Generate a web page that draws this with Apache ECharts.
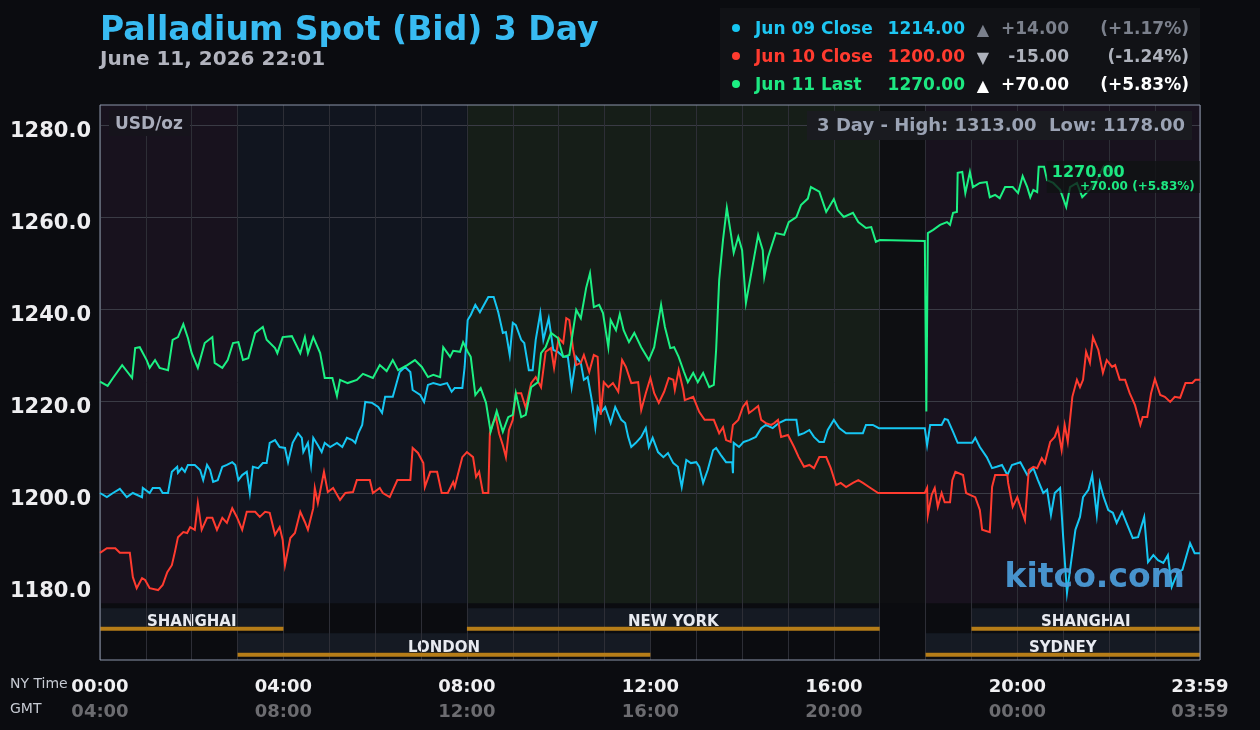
<!DOCTYPE html>
<html><head><meta charset="utf-8">
<script src="https://cdn.jsdelivr.net/npm/echarts@6/dist/echarts.min.js"></script>
<style>html,body{margin:0;padding:0;background:#0b0c10;}#c{width:1260px;height:730px;}</style>
</head><body><div id="c"></div>
<script>
// ---------- DATA ----------
const titleText = 'Palladium Spot (Bid) 3 Day';
const subtitleText = 'June 11, 2026 22:01';
const unitText = 'USD/oz';
const rangeStats = { high: '1313.00', low: '1178.00' };

const legendNames   = ['Jun 09 Close', 'Jun 10 Close', 'Jun 11 Last'];
const legendValues  = ['1214.00', '1200.00', '1270.00'];
const legendArrows  = ['\u25B2', '\u25BC', '\u25B2'];
const legendChanges = ['+14.00', '-15.00', '+70.00'];
const legendPcts    = ['(+1.17%)', '(-1.24%)', '(+5.83%)'];
const lastChangeText = '+70.00 (+5.83%)';

const tickMinutes   = [0, 240, 480, 720, 960, 1200, 1439];
const nyTickLabels  = ['00:00', '04:00', '08:00', '12:00', '16:00', '20:00', '23:59'];
const gmtTickLabels = ['04:00', '08:00', '12:00', '16:00', '20:00', '00:00', '03:59'];

// time-of-day background bands: [startMin, endMin, kind]
const bands = [[0, 180, 'asia'], [180, 480, 'london'], [480, 1020, 'ny'], [1020, 1080, 'closed'], [1080, 1439, 'asia']];
// trading sessions: [name, startMin, endMin, row]
const sessions = [['SHANGHAI', 0, 240, 1], ['NEW YORK', 480, 1020, 1], ['SHANGHAI', 1140, 1439, 1], ['LONDON', 180, 720, 2], ['SYDNEY', 1080, 1439, 2]];

// series: [minute of NY day, price]
const jun09 = [[0,1200],[9,1199.1],[17,1200],[26,1200.9],[35,1199.1],[43,1200],[55,1199.1],[56,1201.1],[65,1200],[69,1201.1],[78,1201.1],[82,1200],[89,1200],[94,1204.6],[101,1205.7],[102,1204.4],[107,1205.4],[111,1204.6],[115,1206.1],[124,1206.1],[131,1205],[135,1202.8],[140,1206.1],[144,1205],[148,1202.4],[154,1202.8],[160,1205.7],[166,1206.1],[173,1206.7],[177,1206.1],[181,1202.8],[186,1203.9],[192,1204.6],[196,1200],[200,1205.7],[207,1205.4],[213,1206.5],[218,1206.5],[222,1210.9],[229,1211.5],[235,1210],[242,1209.8],[246,1206.7],[252,1210.9],[259,1213],[264,1212],[266,1208.9],[272,1210.9],[276,1206.1],[279,1212],[285,1210.4],[290,1208.9],[294,1210.9],[301,1210],[310,1210.9],[317,1210],[323,1212],[330,1211.5],[334,1210.9],[338,1213],[343,1214.8],[347,1219.8],[356,1219.6],[364,1218.7],[369,1217.4],[373,1220.9],[383,1220.9],[392,1226.3],[399,1227.4],[406,1226.3],[409,1222.4],[419,1221.3],[424,1219.8],[429,1223.5],[436,1223.9],[445,1223.5],[454,1223.9],[460,1222],[464,1222.8],[474,1222.8],[477,1227.4],[481,1237.6],[485,1238.7],[491,1240.9],[497,1239.3],[508,1242.6],[515,1242.6],[521,1239.3],[527,1234.8],[531,1235],[536,1230],[540,1237],[544,1236.5],[551,1233.3],[555,1232.6],[561,1226.7],[566,1226.7],[570,1233.3],[576,1239.1],[580,1233.3],[587,1238],[593,1231.1],[599,1230.7],[606,1229.6],[612,1229.6],[617,1223],[623,1229.6],[629,1228.3],[633,1224.6],[638,1225.2],[644,1219.6],[648,1214.3],[651,1218.7],[655,1217.4],[661,1218.7],[668,1215.2],[674,1218.7],[682,1215.9],[687,1215.2],[691,1212.2],[695,1210],[701,1210.9],[708,1212.2],[714,1214.1],[718,1210],[723,1212],[730,1208.9],[737,1207.8],[743,1208.7],[750,1206.5],[756,1205.7],[761,1201.3],[767,1207.2],[773,1206.5],[780,1206.7],[784,1205.7],[789,1202.2],[795,1205],[802,1209.3],[806,1209.8],[812,1208.3],[819,1206.7],[827,1206.7],[828,1204.3],[829,1210.9],[836,1210],[842,1211.1],[849,1211.5],[858,1212.2],[865,1214.1],[871,1214.8],[880,1214.1],[888,1215.2],[897,1215.9],[911,1215.9],[914,1212.6],[921,1213],[928,1213.7],[934,1212.2],[941,1211.1],[947,1211.1],[952,1213.7],[960,1215.9],[967,1214.1],[976,1213],[998,1213],[1002,1214.8],[1011,1214.8],[1019,1214.1],[1079,1214.1],[1082,1210.4],[1086,1214.8],[1101,1214.8],[1105,1216.1],[1109,1215.9],[1116,1213.3],[1122,1210.9],[1141,1210.9],[1145,1212],[1151,1210],[1160,1207.8],[1167,1205.4],[1173,1205.7],[1180,1206.1],[1187,1203.9],[1193,1206.1],[1204,1206.7],[1213,1203.9],[1221,1205.4],[1227,1202.8],[1234,1200],[1239,1200.7],[1244,1195.2],[1249,1200],[1256,1201.1],[1260,1190.4],[1265,1178.3],[1269,1183.3],[1276,1192],[1282,1194.8],[1286,1199.1],[1293,1200.7],[1298,1203.9],[1304,1195.2],[1308,1202.2],[1313,1199.1],[1319,1196.3],[1325,1195.7],[1330,1193.5],[1337,1195.9],[1344,1193],[1351,1190.2],[1358,1190.4],[1366,1194.8],[1371,1185],[1378,1186.5],[1384,1185.4],[1391,1184.8],[1397,1186.5],[1402,1179.6],[1410,1182.8],[1416,1183.3],[1426,1189.1],[1432,1186.9],[1439,1186.9]];

const jun10 = [[0,1187],[9,1188],[20,1188],[26,1187],[39,1187],[43,1181.7],[48,1179.3],[55,1181.5],[59,1181.1],[65,1179.3],[76,1178.9],[82,1180],[88,1182.8],[94,1184.3],[98,1187.2],[102,1190.4],[109,1191.5],[114,1191.3],[118,1192.6],[124,1192],[128,1197.8],[133,1192],[140,1194.6],[147,1194.6],[153,1192],[160,1194.6],[166,1193.5],[173,1196.7],[179,1194.8],[186,1192],[192,1195.9],[203,1195.9],[209,1194.8],[216,1195.9],[222,1195.7],[229,1190.9],[235,1192.6],[239,1189.8],[242,1184.3],[249,1190.2],[255,1191.3],[262,1195.9],[268,1193.7],[272,1192],[279,1196.7],[281,1201.1],[285,1197.8],[293,1204.6],[298,1200.2],[305,1201.1],[314,1198.5],[321,1200],[331,1200.2],[336,1202.8],[353,1202.8],[357,1200],[366,1201.1],[370,1200],[379,1199.1],[389,1202.8],[406,1202.8],[409,1209.8],[416,1208.7],[423,1206.5],[425,1201.3],[432,1204.6],[441,1204.6],[447,1200],[455,1200],[462,1202.4],[464,1201.3],[474,1207.8],[480,1208.9],[488,1207.8],[492,1203.5],[496,1204.6],[501,1200],[508,1200],[510,1213],[514,1215.2],[518,1216.5],[522,1213],[527,1210.4],[531,1207.8],[535,1213.7],[540,1215.9],[544,1221.7],[551,1221.7],[557,1218.5],[564,1223.9],[570,1225.2],[577,1223],[583,1230.7],[590,1231.5],[594,1227.2],[600,1233.7],[606,1232.6],[610,1238],[614,1237.6],[619,1231.1],[623,1227.8],[629,1228.3],[633,1230],[640,1226.3],[646,1230],[651,1229.6],[655,1217],[659,1224.1],[665,1223],[671,1223.9],[678,1222],[683,1228.9],[688,1227.4],[695,1223.9],[704,1224.1],[708,1218],[714,1221.7],[720,1225],[725,1221.7],[731,1219.6],[738,1222],[744,1225],[750,1224.6],[752,1222.4],[757,1226.7],[763,1222.4],[765,1220.2],[776,1220.9],[784,1217.6],[791,1215.9],[803,1215.9],[810,1213],[815,1214.3],[819,1211.5],[825,1211.1],[828,1214.8],[835,1215.9],[841,1218.7],[846,1219.8],[849,1217.4],[854,1218],[861,1218.9],[865,1215.9],[871,1215.2],[878,1214.8],[882,1215.2],[887,1215.9],[891,1212.2],[900,1212.6],[908,1210],[914,1207.8],[921,1205.7],[928,1206.1],[934,1205.4],[941,1207.8],[950,1207.8],[956,1205.4],[963,1201.7],[969,1202.2],[976,1201.3],[985,1202.2],[992,1202.8],[998,1202.2],[1006,1201.3],[1018,1200],[1079,1200],[1082,1201.1],[1083,1195.2],[1088,1199.6],[1092,1201.1],[1096,1197],[1101,1200],[1105,1198],[1112,1198],[1115,1202.8],[1119,1204.6],[1129,1203.9],[1133,1200],[1138,1199.6],[1145,1199.1],[1151,1196.3],[1154,1192],[1164,1191.5],[1167,1201.3],[1171,1203.9],[1187,1203.9],[1188,1202.2],[1194,1197],[1200,1199.1],[1204,1197],[1210,1194.1],[1215,1205],[1221,1205.7],[1226,1205.4],[1232,1207.6],[1236,1206.5],[1243,1211.1],[1249,1212.2],[1253,1214.1],[1258,1209.3],[1262,1214.8],[1266,1211.1],[1272,1220.9],[1278,1224.6],[1282,1223],[1286,1224.6],[1290,1230.7],[1295,1228.3],[1299,1233.9],[1306,1231.1],[1312,1226.1],[1317,1228.9],[1324,1227.4],[1328,1227.8],[1334,1224.6],[1341,1224.6],[1347,1221.7],[1354,1219.1],[1361,1214.8],[1364,1216.5],[1370,1216.5],[1375,1221.7],[1380,1224.8],[1387,1221.3],[1393,1220.9],[1400,1219.8],[1406,1220.9],[1413,1220.7],[1420,1223.9],[1429,1223.9],[1433,1224.6],[1439,1224.6]];

const jun11 = [[0,1224.2],[10,1223.3],[17,1225],[29,1227.8],[42,1225],[46,1231.5],[52,1231.7],[61,1228.9],[65,1227.2],[72,1228.9],[78,1227.2],[89,1226.7],[95,1233.3],[102,1233.9],[109,1236.7],[115,1233.7],[120,1230.4],[128,1227.2],[137,1232.6],[147,1233.9],[150,1228.3],[160,1227.2],[167,1228.9],[174,1232.6],[181,1232.8],[187,1228.9],[194,1229.3],[203,1234.8],[213,1236.1],[218,1233.3],[229,1231.5],[232,1230.4],[239,1233.9],[251,1234.1],[262,1230.4],[268,1233.9],[272,1230.4],[279,1233.9],[288,1230.4],[294,1225],[304,1225],[310,1221.1],[314,1224.6],[324,1223.9],[336,1224.6],[344,1225.9],[357,1225],[366,1227.8],[375,1226.5],[383,1228.9],[390,1226.7],[402,1227.8],[412,1228.9],[421,1227.4],[429,1225.2],[436,1225.7],[445,1225.2],[449,1231.7],[458,1229.6],[462,1230.9],[471,1230.7],[475,1232.8],[481,1230.7],[485,1229.6],[491,1221.3],[498,1222.8],[505,1219.6],[511,1213.3],[519,1217.8],[527,1213.3],[534,1216.5],[540,1217],[544,1221.7],[551,1216.5],[557,1217],[564,1223],[573,1224.1],[577,1230.4],[583,1231.7],[590,1234.8],[599,1233.7],[606,1229.6],[614,1230],[623,1239.8],[629,1238],[636,1244.6],[641,1247.8],[646,1240.4],[653,1240.9],[658,1239.1],[665,1231.7],[668,1237.6],[675,1235.4],[680,1238.9],[685,1235.4],[692,1232.8],[699,1234.8],[708,1231.7],[718,1228.9],[725,1231.7],[734,1240.9],[739,1236.1],[746,1231.5],[751,1231.7],[757,1229.6],[764,1226.3],[769,1224.1],[776,1226.1],[782,1224.1],[789,1226.1],[797,1223],[803,1223.5],[806,1231.1],[810,1246.3],[815,1255],[820,1262],[825,1256.7],[829,1252.2],[835,1255.7],[840,1252.8],[845,1241.3],[852,1247.8],[861,1256.1],[867,1252.8],[869,1247],[874,1251.3],[884,1256.5],[895,1256.1],[901,1258.9],[911,1260],[917,1262.6],[926,1264],[930,1266.5],[941,1265.5],[950,1261.1],[960,1263.9],[965,1261.5],[973,1260],[985,1260.9],[992,1258.9],[1002,1257.6],[1009,1257.8],[1015,1254.6],[1020,1255],[1079,1254.8],[1081,1217.7],[1083,1256.5],[1090,1257.2],[1099,1258.3],[1108,1258.9],[1112,1258.3],[1116,1260.9],[1121,1261.1],[1122,1269.6],[1128,1269.8],[1132,1265.2],[1138,1269.8],[1142,1266.5],[1151,1267.4],[1160,1267.6],[1164,1264.3],[1171,1264.8],[1177,1264.1],[1184,1266.5],[1194,1266.5],[1201,1265.2],[1207,1268.9],[1213,1266.5],[1217,1264.3],[1221,1265.9],[1226,1265.4],[1228,1270.9],[1235,1270.9],[1239,1268],[1247,1267.4],[1256,1265.9],[1264,1262.2],[1269,1266.5],[1278,1267.4],[1285,1264.3],[1295,1266],[1304,1268],[1313,1271],[1321,1270]];

// ---------- STYLE ----------
const FONT = 'DejaVu Sans';
const lineColors = ['#16c6f2', '#ff3b2f', '#1cf083'];
const legendTextColors = ['#1ec6f2', '#ff3b2f', '#1de882'];
const legendChangeColors = ['#7b808c', '#aeb2bc', '#ffffff'];
const bandColors = { asia: '#18121e', london: '#11151f', ny: '#161e18', closed: '#0e0f12' };
const sessionBg = '#151a23', sessionBar = '#b67d18';

const chart = echarts.init(document.getElementById('c'), null, { renderer: 'canvas' });

// layout scale for grid 0 (frame): 0 = frame bottom, 555 = frame top
const BAND_BOTTOM = 56.7, FRAME_TOP = 555;
const ROWS = { 1: [29.3, 51.7], 2: [3.3, 26.7] };
const BAR_H = 4;

const bandAreas = bands.map(b => [
  { xAxis: b[0], yAxis: BAND_BOTTOM, itemStyle: { color: bandColors[b[2]] } },
  { xAxis: b[1], yAxis: FRAME_TOP }
]);
const sessionAreas = sessions.map(s => [
  { name: s[0], xAxis: s[1], yAxis: ROWS[s[3]][0] + BAR_H, itemStyle: { color: sessionBg } },
  { xAxis: s[2], yAxis: ROWS[s[3]][1] }
]);
const sessionBars = sessions.map(s => [
  { xAxis: s[1], yAxis: ROWS[s[3]][0], itemStyle: { color: sessionBar } },
  { xAxis: s[2], yAxis: ROWS[s[3]][0] + BAR_H }
]);

function lineSeries(name, data, color) {
  return {
    name, type: 'line', data, xAxisIndex: 1, yAxisIndex: 1, z: 5,
    showSymbol: false, symbol: 'none', smooth: false,
    lineStyle: { color, width: 2, join: 'miter' }, silent: true
  };
}
const last = jun11[jun11.length - 1];

const option = {
  backgroundColor: '#0b0c10',
  animation: false,
  grid: [
    { left: 100, right: 60, top: 105, bottom: 70, show: true, z: 4, borderColor: '#8c95aa', borderWidth: 1, backgroundColor: 'transparent' },
    { left: 100, right: 60, top: 33, bottom: 53, show: false }
  ],
  xAxis: [
    {
      gridIndex: 0, type: 'value', min: 0, max: 1439, interval: 60, z: 2,
      axisLine: { show: false }, axisTick: { show: false },
      splitLine: { show: true, lineStyle: { color: '#2d2e36', width: 1 } },
      axisLabel: {
        margin: 15,
        formatter: v => {
          const i = tickMinutes.indexOf(v);
          return i < 0 ? '' : '{ny|' + nyTickLabels[i] + '}\n{gmt|' + gmtTickLabels[i] + '}';
        },
        rich: {
          ny: { fontFamily: FONT, fontSize: 18, fontWeight: 'bold', color: '#f0f0f2', lineHeight: 25 },
          gmt: { fontFamily: FONT, fontSize: 18, fontWeight: 'bold', color: '#6c6c70', lineHeight: 25 }
        }
      }
    },
    { gridIndex: 1, type: 'value', min: 0, max: 1439, show: false, splitLine: { show: false } }
  ],
  yAxis: [
    { gridIndex: 0, type: 'value', min: 0, max: FRAME_TOP, show: false, splitLine: { show: false } },
    {
      gridIndex: 1, type: 'value', min: 1160, max: 1300, interval: 20, z: 2,
      axisLine: { show: false }, axisTick: { show: false },
      splitLine: { show: true, showMinLine: false, showMaxLine: false,
        lineStyle: { color: ['rgba(0,0,0,0)', '#3a3b45', '#3a3b45', '#3a3b45', '#3a3b45', '#3a3b45', '#3a3b45', 'rgba(0,0,0,0)'], width: 1 } },
      axisLabel: {
        showMinLabel: false, showMaxLabel: false, margin: 9,
        verticalAlign: 'top', lineHeight: 14,
        formatter: v => (v <= 1160 || v >= 1300) ? '' : v.toFixed(1),
        color: '#eeeef0', fontFamily: FONT, fontSize: 21, fontWeight: 'bold'
      }
    }
  ],
  series: [
    { name: 'bands', type: 'line', data: [], xAxisIndex: 0, yAxisIndex: 0, z: 0, silent: true,
      markArea: { silent: true, z: 0, data: bandAreas } },
    { name: 'sessions', type: 'line', data: [], xAxisIndex: 0, yAxisIndex: 0, z: 0, silent: true,
      markArea: { silent: true, z: 0, data: sessionAreas,
        label: { show: true, position: 'inside', offset: [0, 5], formatter: '{b}', color: '#e8eaf0',
                 fontFamily: FONT, fontSize: 15, fontWeight: 'bold' } } },
    { name: 'sessionBars', type: 'line', data: [], xAxisIndex: 0, yAxisIndex: 0, z: 3, silent: true,
      markArea: { silent: true, z: 3, data: sessionBars, label: { show: false } } },
    lineSeries(legendNames[0], jun09, lineColors[0]),
    lineSeries(legendNames[1], jun10, lineColors[1]),
    lineSeries(legendNames[2], jun11, lineColors[2]),
    { name: 'lastHalo', type: 'scatter', xAxisIndex: 1, yAxisIndex: 1, z: 4, silent: true,
      data: [last], symbolSize: 18, itemStyle: { color: 'rgba(30,232,130,0.22)' } }
  ]
};
chart.setOption(option);

// ---------- overlays ----------
const g = [];
g.push({ type: 'text', z: 20, style: { text: titleText, x: 100, y: 31, font: 'bold 33px "DejaVu Sans"', fill: '#38bbf2', verticalAlign: 'middle' } });
g.push({ type: 'text', z: 20, style: { text: subtitleText, x: 100, y: 60, font: 'bold 20px "DejaVu Sans"', fill: '#b2b4be', verticalAlign: 'middle' } });

// legend box
g.push({ type: 'rect', z: 19, shape: { x: 720, y: 8, width: 480, height: 96 }, style: { fill: '#111216' } });
const rowY = [30, 58, 86];
legendNames.forEach((n, i) => {
  const y = rowY[i];
  g.push({ type: 'circle', z: 20, shape: { cx: 736, cy: y - 2, r: 4 }, style: { fill: lineColors[i] } });
  g.push({ type: 'text', z: 20, style: { text: n, x: 755, y, font: 'bold 17px "DejaVu Sans"', fill: legendTextColors[i], verticalAlign: 'middle' } });
  g.push({ type: 'text', z: 20, style: { text: legendValues[i], x: 965, y, font: 'bold 17px "DejaVu Sans"', fill: legendTextColors[i], align: 'right', verticalAlign: 'middle' } });
  g.push({ type: 'text', z: 20, style: { text: legendArrows[i], x: 983, y: y + 1, font: 'bold 16px "DejaVu Sans"', fill: legendChangeColors[i], align: 'center', verticalAlign: 'middle' } });
  g.push({ type: 'text', z: 20, style: { text: legendChanges[i], x: 1069, y, font: 'bold 17px "DejaVu Sans"', fill: legendChangeColors[i], align: 'right', verticalAlign: 'middle' } });
  g.push({ type: 'text', z: 20, style: { text: legendPcts[i], x: 1189, y, font: 'bold 17px "DejaVu Sans"', fill: legendChangeColors[i], align: 'right', verticalAlign: 'middle' } });
});

// high/low box
g.push({ type: 'rect', z: 19, shape: { x: 807, y: 111, width: 385, height: 29 }, style: { fill: '#1a1b20' } });
g.push({ type: 'text', z: 20, style: { text: '3 Day - High: ' + rangeStats.high + '  Low: ' + rangeStats.low, x: 1185, y: 126, font: 'bold 18px "DejaVu Sans"', fill: '#9ba3b4', align: 'right', verticalAlign: 'middle' } });

// unit box
g.push({ type: 'rect', z: 19, shape: { x: 109, y: 110, width: 81, height: 26 }, style: { fill: '#16141c' } });
g.push({ type: 'text', z: 20, style: { text: unitText, x: 115, y: 125, font: 'bold 17px "DejaVu Sans"', fill: '#a9adbb', verticalAlign: 'middle' } });

// axis captions
g.push({ type: 'text', z: 20, style: { text: 'NY Time', x: 10, y: 684, font: '14px "DejaVu Sans"', fill: '#c6cad2', verticalAlign: 'middle' } });
g.push({ type: 'text', z: 20, style: { text: 'GMT', x: 10, y: 709, font: '14px "DejaVu Sans"', fill: '#c6cad2', verticalAlign: 'middle' } });

// watermark
g.push({ type: 'text', z: 8, style: { text: 'kitco.com', x: 1185, y: 578, font: 'bold 33px "DejaVu Sans"', fill: 'rgba(76,158,220,0.92)', align: 'right', verticalAlign: 'middle' } });

// last value label near the end of the Jun 11 line
const p = chart.convertToPixel({ xAxisIndex: 1, yAxisIndex: 1 }, last);
g.push({ type: 'rect', z: 9, shape: { x: p[0] - 63, y: p[1] - 10, width: 153, height: 32 }, style: { fill: 'rgba(16,18,19,0.78)' } });
g.push({ type: 'text', z: 10, style: { text: last[1].toFixed(2), x: p[0] - 58, y: p[1] + 2, font: 'bold 16px "DejaVu Sans"', fill: '#1de882', verticalAlign: 'middle' } });
g.push({ type: 'text', z: 10, style: { text: lastChangeText, x: p[0] + 85, y: p[1] + 16, font: 'bold 12px "DejaVu Sans"', fill: '#1de882', align: 'right', verticalAlign: 'middle' } });

chart.setOption({ graphic: g });
</script></body></html>
